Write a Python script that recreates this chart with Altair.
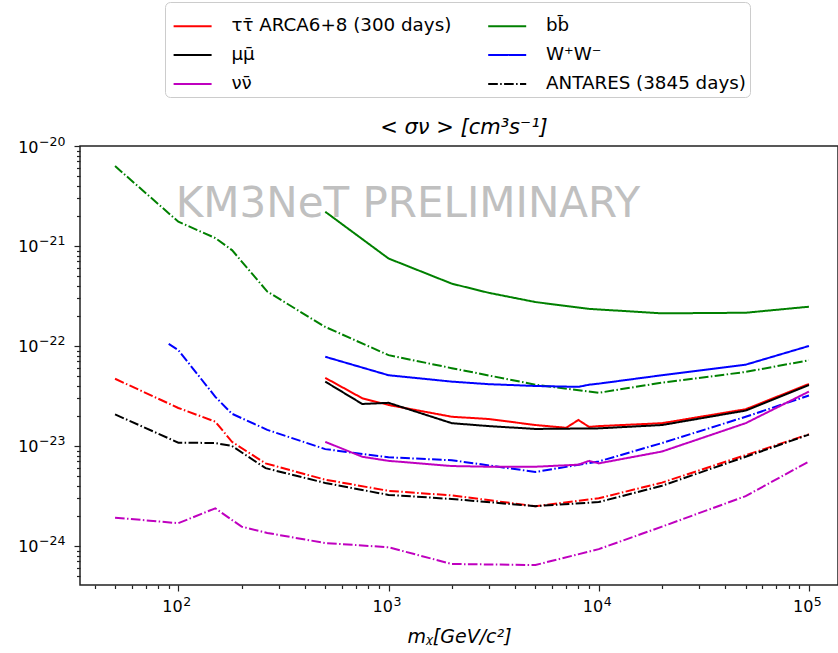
import altair as alt
import pandas as pd

# ---------------- data ----------------
# ARCA6+8 (300 days) limits — solid lines
arca_tau_m = [500, 750, 1000, 2000, 3000, 5000, 7000, 8000, 9000, 10000, 20000, 50000, 100000]
arca_tau_v = [4.8e-23, 3.0e-23, 2.57e-23, 1.96e-23, 1.86e-23, 1.62e-23, 1.52e-23, 1.82e-23, 1.55e-23, 1.58e-23, 1.69e-23, 2.33e-23, 4.17e-23]
arca_mumu_m = [500, 750, 1000, 2000, 3000, 5000, 10000, 20000, 50000, 100000]
arca_mumu_v = [4.4e-23, 2.63e-23, 2.7e-23, 1.69e-23, 1.58e-23, 1.48e-23, 1.5e-23, 1.62e-23, 2.26e-23, 4.07e-23]
arca_nu_m = [500, 750, 1000, 2000, 3000, 5000, 8000, 9000, 10000, 20000, 50000, 100000]
arca_nu_v = [1.1e-23, 7.8e-24, 7.1e-24, 6.3e-24, 6.2e-24, 6.2e-24, 6.5e-24, 7.1e-24, 6.7e-24, 8.8e-24, 1.69e-23, 3.5e-23]
arca_bb_m = [500, 1000, 2000, 3000, 5000, 9000, 20000, 50000, 100000]
arca_bb_v = [2.2e-21, 7.5e-22, 4.2e-22, 3.4e-22, 2.75e-22, 2.35e-22, 2.12e-22, 2.15e-22, 2.47e-22]
arca_ww_m = [500, 1000, 2000, 3000, 5000, 8000, 9000, 10000, 20000, 50000, 100000]
arca_ww_v = [7.8e-23, 5.1e-23, 4.4e-23, 4.15e-23, 3.98e-23, 3.9e-23, 4.1e-23, 4.2e-23, 5.1e-23, 6.5e-23, 1.0e-22]

# ANTARES (3845 days) limits — dash-dot lines
ant_tau_m = [50, 100, 150, 180, 260, 500, 1000, 2000, 5000, 10000, 20000, 50000, 100000]
ant_tau_v = [4.7e-23, 2.4e-23, 1.75e-23, 1.1e-23, 6.7e-24, 4.6e-24, 3.56e-24, 3.2e-24, 2.5e-24, 3.0e-24, 4.3e-24, 8.1e-24, 1.31e-23]
ant_mumu_m = [50, 100, 150, 180, 260, 500, 1000, 2000, 5000, 10000, 20000, 50000, 100000]
ant_mumu_v = [2.07e-23, 1.08e-23, 1.07e-23, 1.0e-23, 6.0e-24, 4.27e-24, 3.24e-24, 2.95e-24, 2.5e-24, 2.75e-24, 4.0e-24, 7.8e-24, 1.3e-23]
ant_nu_m = [50, 100, 150, 200, 265, 500, 1000, 2000, 5000, 10000, 20000, 50000, 100000]
ant_nu_v = [1.92e-24, 1.69e-24, 2.38e-24, 1.56e-24, 1.35e-24, 1.07e-24, 9.7e-25, 6.6e-25, 6.45e-25, 9.3e-25, 1.56e-24, 3.15e-24, 7.0e-24]
ant_bb_m = [50, 100, 150, 180, 265, 500, 1000, 2000, 5000, 10000, 20000, 50000, 100000]
ant_bb_v = [6.3e-21, 1.75e-21, 1.2e-21, 9.1e-22, 3.5e-22, 1.55e-22, 8.1e-23, 6.0e-23, 4.1e-23, 3.4e-23, 4.3e-23, 5.5e-23, 7.2e-23]
ant_ww_m = [90, 100, 150, 180, 265, 500, 1000, 2000, 5000, 10000, 20000, 50000, 100000]
ant_ww_v = [1.05e-22, 9.1e-23, 3.1e-23, 2.1e-23, 1.45e-23, 9.3e-24, 7.7e-24, 7.2e-24, 5.5e-24, 7.0e-24, 1.07e-23, 1.96e-23, 3.2e-23]

# legend labels (column-major order for a 2-column legend)
lab_tau = "ττ̄ ARCA6+8 (300 days)"
lab_mumu = "μμ̄"
lab_nu = "νν̄"
lab_bb = "bb̄"
lab_ww = "W⁺W⁻"
lab_ant = "ANTARES (3845 days)"
legend_order = [lab_tau, lab_mumu, lab_nu, lab_bb, lab_ww, lab_ant]
legend_colors = ["#ff0000", "#000000", "#bf00bf", "#008000", "#0000ff", "#000000"]

# axis ticks and tick labels
x_major_vals = [100, 1000, 10000, 100000]
x_major_exp = ["2", "3", "4", "5"]
y_major_vals = [1e-24, 1e-23, 1e-22, 1e-21, 1e-20]
y_major_exp = ["−24", "−23", "−22", "−21", "−20"]
x_ticks = [k * 10 ** e for e in [1, 2, 3, 4] for k in range(1, 10) if 35 <= k * 10 ** e] + [100000]
y_ticks = [k * 10.0 ** e for e in [-25, -24, -23, -22, -21] for k in range(1, 10) if k * 10.0 ** e >= 4.1e-25] + [1e-20]

title_text = "<  σν  >  [cm³s⁻¹]"
xlabel_text = "mᵪ[GeV/c²]"
watermark_text = "KM3NeT PRELIMINARY"

# ---------------- build tables ----------------
def rows(m, v, lab, name):
    return [{"m": a, "v": b, "clabel": lab, "series": name} for a, b in zip(m, v)]

arca = pd.DataFrame(
    rows(arca_tau_m, arca_tau_v, lab_tau, "tau")
    + rows(arca_mumu_m, arca_mumu_v, lab_mumu, "mumu")
    + rows(arca_nu_m, arca_nu_v, lab_nu, "nu")
    + rows(arca_bb_m, arca_bb_v, lab_bb, "bb")
    + rows(arca_ww_m, arca_ww_v, lab_ww, "ww")
)
ant = pd.DataFrame(
    rows(ant_tau_m, ant_tau_v, lab_tau, "tau")
    + rows(ant_mumu_m, ant_mumu_v, lab_mumu, "mumu")
    + rows(ant_nu_m, ant_nu_v, lab_nu, "nu")
    + rows(ant_bb_m, ant_bb_v, lab_bb, "bb")
    + rows(ant_ww_m, ant_ww_v, lab_ww, "ww")
)
xlab_df = pd.DataFrame({"m": x_major_vals, "base": ["10"] * len(x_major_vals), "exp": x_major_exp})
ylab_df = pd.DataFrame({"v": y_major_vals, "base": ["10"] * len(y_major_vals), "exp": y_major_exp})

major_test = "abs(log(datum.value)/LN10 - round(log(datum.value)/LN10)) < 0.001"
tick_size = {"condition": {"test": major_test, "value": 6}, "value": 3.5}

FONT = "DejaVu Sans"
xscale = alt.Scale(type="log", domain=[34.06, 137500], nice=False)
yscale = alt.Scale(type="log", domain=[4.07e-25, 1.0e-20], nice=False)

x_axis = alt.Axis(values=x_ticks, labels=False, tickSize=tick_size, grid=False, domain=False,
                  title=xlabel_text, titleFont=FONT, titleColor="#000", tickColor="#222", tickWidth=1.2,
                  titleFontSize=19, titleFontStyle="italic", titleFontWeight="normal", titlePadding=36)
y_axis = alt.Axis(values=y_ticks, labels=False, tickSize=tick_size, grid=False, domain=False, title=None,
                  tickColor="#222", tickWidth=1.2)

DASHDOT = [9.6, 2.4, 1.5, 2.4]
color_scale = alt.Scale(domain=legend_order, range=legend_colors)
dash_scale = alt.Scale(domain=legend_order, range=[[1, 0], [1, 0], [1, 0], [1, 0], [1, 0], DASHDOT])

legend = alt.Legend(
    title=None, orient="none", legendX=85, legendY=-144, columns=2, symbolType="stroke",
    symbolSize=1444, symbolStrokeWidth=2, symbolOffset=3.6, labelFont=FONT, labelFontSize=18.3,
    labelColor="#000", labelOffset=18.8, padding=4, rowPadding=-5.5, columnPadding=31.6,
    strokeColor="#cccccc", fillColor="#ffffff", cornerRadius=5, labelLimit=400,
)

arca_layer = alt.Chart(arca).mark_line(strokeWidth=2, clip=True).encode(
    x=alt.X("m:Q", scale=xscale, axis=x_axis),
    y=alt.Y("v:Q", scale=yscale, axis=y_axis),
    color=alt.Color("clabel:N", scale=color_scale, legend=legend),
    strokeDash=alt.StrokeDash("clabel:N", scale=dash_scale, legend=legend),
    detail="series:N",
)

ant_layer = alt.Chart(ant).mark_line(strokeWidth=2, clip=True, strokeDash=DASHDOT).encode(
    x=alt.X("m:Q", scale=xscale),
    y=alt.Y("v:Q", scale=yscale),
    color=alt.Color("clabel:N", scale=color_scale, legend=legend),
    detail="series:N",
)

# tick labels in the "10^n" form
xl_base = alt.Chart(xlab_df).mark_text(font=FONT, fontSize=16, align="right", baseline="middle", dx=4.4, color="#000").encode(
    x=alt.X("m:Q", scale=xscale), y=alt.value(461), text="base:N")
xl_exp = alt.Chart(xlab_df).mark_text(font=FONT, fontSize=12.5, align="left", baseline="middle", dx=4.9, color="#000").encode(
    x=alt.X("m:Q", scale=xscale), y=alt.value(455.5), text="exp:N")
yl_base = alt.Chart(ylab_df).mark_text(font=FONT, fontSize=16, align="right", baseline="middle", dy=1.5, color="#000").encode(
    y=alt.Y("v:Q", scale=yscale), x=alt.value(-41.5), text="base:N")
yl_exp = alt.Chart(ylab_df).mark_text(font=FONT, fontSize=12.5, align="left", baseline="middle", dy=-4.5, color="#000").encode(
    y=alt.Y("v:Q", scale=yscale), x=alt.value(-41), text="exp:N")

wm = alt.Chart(pd.DataFrame({"t": [watermark_text]})).mark_text(
    font=FONT, fontSize=42, color="#c0c0c0", align="center", baseline="alphabetic"
).encode(text="t:N", x=alt.value(328), y=alt.value(71))

title = alt.Chart(pd.DataFrame({"t": [title_text]})).mark_text(
    font=FONT, fontSize=21, fontStyle="italic", color="#000", align="center", baseline="alphabetic"
).encode(text="t:N", x=alt.value(384), y=alt.value(-12))

chart = alt.layer(wm, ant_layer, arca_layer, xl_base, xl_exp, yl_base, yl_exp, title).properties(
    width=758, height=439,
    autosize=alt.AutoSizeParams(type="none"),
    padding={"left": 80, "top": 146, "right": 0, "bottom": 68},
).configure(font=FONT).configure_view(stroke="#222", strokeWidth=1.5)

chart.save("out.html", embed_options={"renderer": "svg", "actions": False})
